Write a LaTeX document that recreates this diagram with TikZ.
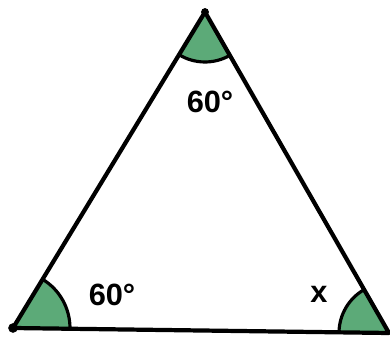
\documentclass[tikz,border=0pt]{standalone}
\usepackage{fontspec}
\setmainfont{Liberation Sans}
\usetikzlibrary{angles}
\definecolor{anglegreen}{RGB}{92,170,120}

\begin{document}
\begin{tikzpicture}[x=0.02cm, y=0.02cm,
    dot/.style={circle, draw, fill=black, inner sep=0pt, minimum size=5pt},
    lbl/.style={font=\fontsize{17.5}{20}\selectfont\bfseries},
    sector/.style={draw, fill=anglegreen, line width=1.8pt}]
	\useasboundingbox (0,0) rectangle (390,342);
	\coordinate (a) at (205, 330);
	\coordinate (b) at (13, 14);
	\coordinate (c) at (389, 9);
	\pic[sector, angle radius=1.0cm] {angle = b--a--c};
	\pic[sector, angle radius=1.14cm] {angle = c--b--a};
	\pic[sector, angle radius=1.0cm] {angle = a--c--b};
	\draw[line width=2.4pt, line join=round] (a) -- (b) -- (c) -- cycle;
	\node[dot, minimum size=4pt] (va) at (a) {};
	\node[dot] (vb) at (b) {};
	\node[lbl] (la) at (210, 240) {60°};
	\node[lbl] (lb) at (112, 47) {60°};
	\node[lbl] (lc) at (319, 48) {x};
\end{tikzpicture}
\end{document}
